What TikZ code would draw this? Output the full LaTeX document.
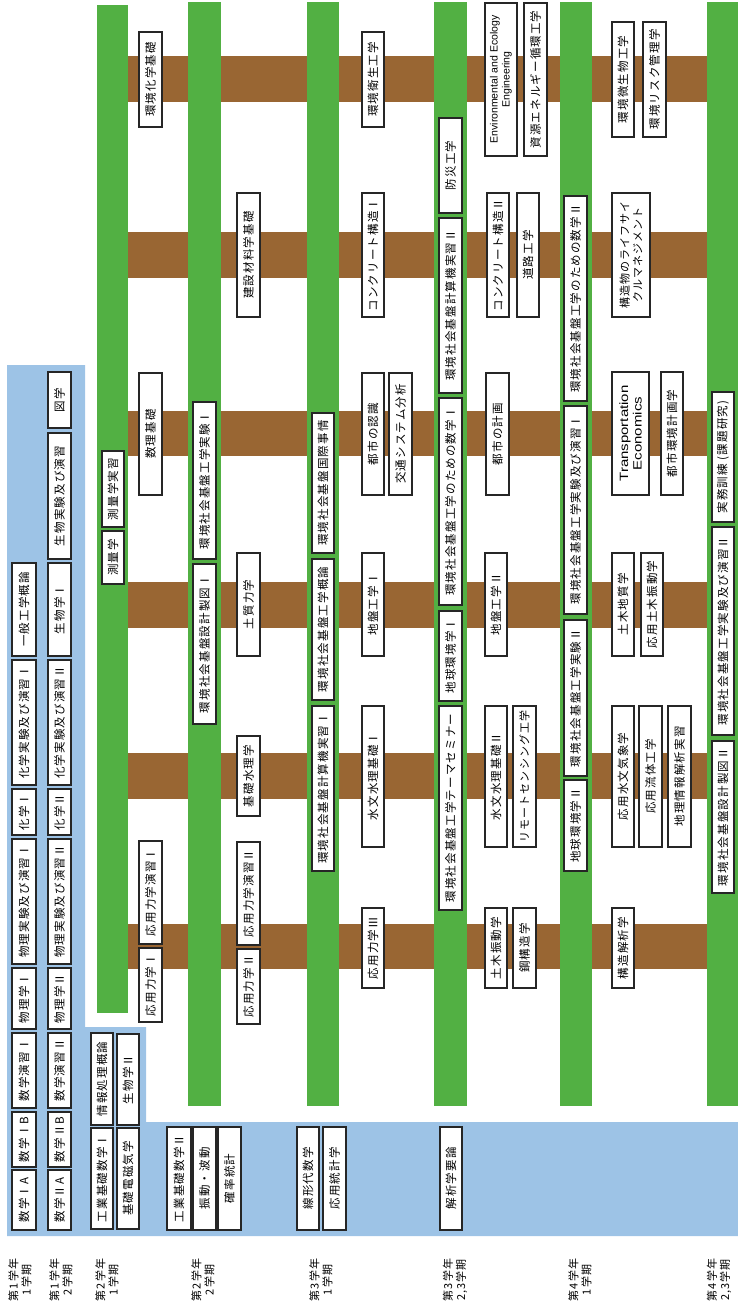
\documentclass[tikz,border=0pt]{standalone}
\usepackage{fontspec}
\setmainfont[LetterSpace=10]{Noto Sans CJK JP}
\newfontfamily\latinf{Liberation Sans}
\newfontfamily\latins[FakeStretch=1.25]{Liberation Sans}
\definecolor{grn}{HTML}{52B043}
\definecolor{brn}{HTML}{996633}
\definecolor{blu}{HTML}{9DC3E6}
\tikzset{
  box/.style={rotate=90,draw=black!85,fill=white,line width=1.2pt,inner sep=0pt,align=center,font=\fontsize{11.5}{13}\selectfont},
  lbl/.style={rotate=90,align=center,inner sep=0pt,font=\fontsize{11}{13}\selectfont},
  band/.style={fill=brn},
  bar/.style={fill=grn},
}
\newcommand\bx[7][]{%
  \pgfmathsetmacro\bxcx{(#3+#5)/2}%
  \pgfmathsetmacro\bxcy{(#4+#6)/2}%
  \pgfmathsetmacro\bxw{#6-#4}%
  \pgfmathsetmacro\bxh{#5-#3}%
  \node[box,#1,minimum width=\bxw pt,minimum height=\bxh pt] (#2) at (\bxcx,\bxcy) {#7};}
\begin{document}
\begin{tikzpicture}[x=1pt,y=-1pt]
\useasboundingbox (0,0) rectangle (738,1309);
% brown bands
\foreach \ya/\yb [count=\i] in {56/102,232/278,411/456,582/628,753/799,924/969}
  \fill[band] (128,\ya) rectangle (738,\yb);
% green bars
\fill[bar] (97,5) rectangle (128,1013);
\fill[bar] (188,2) rectangle (221,1106);
\fill[bar] (307,2) rectangle (339,1106);
\fill[bar] (434,2) rectangle (467,1106);
\fill[bar] (560,2) rectangle (592,1106);
\fill[bar] (707,2) rectangle (738,1106);
% blue region
\fill[blu] (7,365) -- (85,365) -- (85,1027) -- (146,1027) -- (146,1122) -- (738,1122) -- (738,1236) -- (7,1236) -- cycle;
% row 1
\bx{r1a}{12}{1170}{36}{1230}{数学ⅠA}
\bx{r1b}{12}{1112}{36}{1167}{数学ⅠB}
\bx{r1c}{12}{1033}{36}{1108}{数学演習Ⅰ}
\bx{r1d}{12}{968}{36}{1029}{物理学Ⅰ}
\bx{r1e}{12}{839}{36}{964}{物理実験及び演習Ⅰ}
\bx{r1f}{12}{789}{36}{835}{化学Ⅰ}
\bx{r1g}{12}{660}{36}{785}{化学実験及び演習Ⅰ}
\bx{r1h}{12}{563}{36}{656}{一般工学概論}
% row 2
\bx{r2a}{48}{1170}{71}{1230}{数学ⅡA}
\bx{r2b}{48}{1112}{71}{1167}{数学ⅡB}
\bx{r2c}{48}{1033}{71}{1108}{数学演習Ⅱ}
\bx{r2d}{48}{968}{71}{1029}{物理学Ⅱ}
\bx{r2e}{48}{839}{71}{964}{物理実験及び演習Ⅱ}
\bx{r2f}{48}{789}{71}{835}{化学Ⅱ}
\bx{r2g}{48}{660}{71}{785}{化学実験及び演習Ⅱ}
\bx{r2h}{48}{563}{71}{656}{生物学Ⅰ}
\bx{r2i}{48}{433}{71}{559}{生物実験及び演習}
\bx{r2j}{48}{372}{71}{428}{図学}
% row 3
\bx{r3a}{91}{1128}{113}{1229}{工業基礎数学Ⅰ}
\bx{r3b}{117}{1128}{139}{1229}{基礎電磁気学}
\bx{r3c}{91}{1033}{113}{1125}{情報処理概論}
\bx{r3d}{117}{1034}{139}{1125}{生物学Ⅱ}
\bx{r3e}{102}{451}{124}{527}{測量学実習}
\bx{r3f}{102}{531}{124}{584}{測量学}
\bx{r3g}{139}{32}{162}{127}{環境化学基礎}
\bx{r3h}{139}{373}{162}{495}{数理基礎}
\bx{r3i}{139}{841}{162}{944}{応用力学演習Ⅰ}
\bx{r3j}{139}{948}{162}{1022}{応用力学Ⅰ}
% row 4
\bx{r4a}{167}{1127}{191}{1230}{工業基礎数学Ⅱ}
\bx{r4b}{193}{1127}{216}{1230}{振動・波動}
\bx{r4c}{218}{1127}{241}{1230}{確率統計}
\bx{r4d}{193}{402}{216}{559}{環境社会基盤工学実験Ⅰ}
\bx{r4e}{193}{564}{216}{724}{環境社会基盤設計製図Ⅰ}
\bx{r4f}{237}{193}{260}{317}{建設材料学基礎}
\bx{r4g}{237}{553}{260}{656}{土質力学}
\bx{r4h}{237}{736}{260}{816}{基礎水理学}
\bx{r4i}{237}{842}{260}{945}{応用力学演習Ⅱ}
\bx{r4j}{237}{949}{260}{1024}{応用力学Ⅱ}
% row 5
\bx{r5a}{297}{1127}{319}{1230}{線形代数学}
\bx{r5b}{323}{1127}{346}{1230}{応用統計学}
\bx{r5c}{312}{413}{334}{553}{環境社会基盤国際事情}
\bx{r5d}{312}{559}{334}{700}{環境社会基盤工学概論}
\bx{r5e}{312}{706}{334}{871}{環境社会基盤計算機実習Ⅰ}
\bx{r5f}{362}{32}{384}{127}{環境衛生工学}
\bx{r5g}{362}{193}{384}{317}{コンクリート構造Ⅰ}
\bx{r5h}{362}{373}{384}{495}{都市の認識}
\bx{r5i}{389}{373}{412}{495}{交通システム分析}
\bx{r5j}{362}{553}{384}{656}{地盤工学Ⅰ}
\bx{r5k}{362}{706}{384}{847}{水文水理基礎Ⅰ}
\bx{r5l}{362}{908}{384}{988}{応用力学Ⅲ}
% row 6
\bx{r6a}{440}{1127}{462}{1230}{解析学要論}
\bx{r6b}{439}{118}{462}{213}{防災工学}
\bx{r6c}{439}{218}{462}{393}{環境社会基盤計算機実習Ⅱ}
\bx{r6d}{439}{398}{462}{605}{環境社会基盤工学のための数学Ⅰ}
\bx{r6e}{439}{611}{462}{701}{地球環境学Ⅰ}
\bx{r6f}{439}{706}{462}{910}{環境社会基盤工学テーマセミナー}
\bx[font=\latinf\fontsize{10.5}{12}\selectfont]{r6g}{485}{3}{517}{156}{Environmental and Ecology\\Engineering}
\bx{r6h}{524}{3}{547}{156}{資源エネルギー循環工学}
\bx{r6i}{487}{193}{509}{317}{コンクリート構造Ⅱ}
\bx{r6j}{517}{193}{539}{317}{道路工学}
\bx{r6k}{486}{373}{509}{495}{都市の計画}
\bx{r6l}{485}{553}{507}{656}{地盤工学Ⅱ}
\bx{r6m}{485}{706}{507}{847}{水文水理基礎Ⅱ}
\bx[font=\fontsize{11}{13}\selectfont]{r6n}{513}{706}{536}{847}{リモートセンシング工学}
\bx{r6o}{485}{908}{507}{988}{土木振動学}
\bx{r6p}{513}{908}{536}{988}{鋼構造学}
% row 7
\bx{r7b}{564}{196}{587}{401}{環境社会基盤工学のための数学Ⅱ}
\bx{r7c}{564}{406}{587}{614}{環境社会基盤工学実験及び演習Ⅰ}
\bx{r7d}{564}{620}{587}{776}{環境社会基盤工学実験Ⅱ}
\bx{r7e}{564}{780}{587}{871}{地球環境学Ⅱ}
\bx{r7f}{612}{22}{634}{137}{環境微生物工学}
\bx{r7g}{643}{22}{666}{137}{環境リスク管理学}
\bx[font=\fontsize{11}{13}\selectfont]{r7h}{612}{193}{650}{317}{構造物のライフサイ\\クルマネジメント}
\bx[font=\latins\fontsize{12}{13.5}\selectfont]{r7i}{612}{372}{649}{495}{Transportation\\Economics}
\bx{r7j}{661}{372}{683}{495}{都市環境計画学}
\bx{r7k}{612}{553}{634}{656}{土木地質学}
\bx{r7l}{641}{553}{663}{656}{応用土木振動学}
\bx{r7m}{612}{706}{634}{847}{応用水文気象学}
\bx{r7n}{639}{706}{662}{847}{応用流体工学}
\bx{r7o}{668}{706}{691}{847}{地理情報解析実習}
\bx{r7p}{612}{908}{634}{988}{構造解析学}
% row 8
\bx{r8a}{712}{392}{734}{522}{実務訓練 (課題研究)}
\bx{r8b}{712}{527}{734}{735}{環境社会基盤工学実験及び演習Ⅱ}
\bx{r8c}{712}{741}{734}{893}{環境社会基盤設計製図Ⅱ}
% term labels
\node[lbl] (t1) at (20,1280) {第1学年\\1学期};
\node[lbl] (t2) at (61,1280) {第1学年\\2学期};
\node[lbl] (t3) at (107,1280) {第2学年\\1学期};
\node[lbl] (t4) at (203,1280) {第2学年\\2学期};
\node[lbl] (t5) at (321,1280) {第3学年\\1学期};
\node[lbl] (t6) at (455,1280) {第3学年\\2,3学期};
\node[lbl] (t7) at (580,1280) {第4学年\\1学期};
\node[lbl] (t8) at (719,1280) {第4学年\\2,3学期};
\end{tikzpicture}
\end{document}
